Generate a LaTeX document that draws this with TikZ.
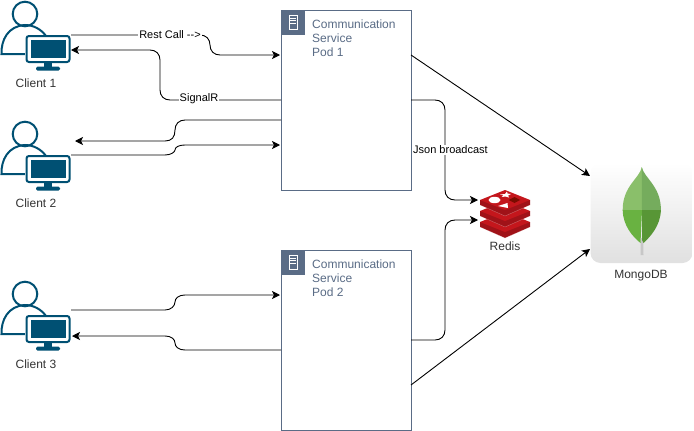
\documentclass[tikz,border=0pt]{standalone}
\usepackage{fontspec}
\setmainfont{Liberation Sans}
\usetikzlibrary{arrows.meta,calc}
\definecolor{clientblue}{HTML}{005073}
\definecolor{podgray}{HTML}{5A6C86}
\definecolor{labelgray}{HTML}{333333}
\definecolor{rA}{HTML}{C4161C}
\definecolor{rB}{HTML}{A01218}
\definecolor{rC}{HTML}{7A0C00}
\definecolor{lA}{HTML}{8ABF6A}
\definecolor{lB}{HTML}{75AC5D}
\definecolor{lC}{HTML}{69B241}
\definecolor{lD}{HTML}{589636}
\tikzset{
  x=1pt,y=-1pt,
  conn/.style={draw=black,line width=0.9pt,-{Stealth[length=8pt,width=8pt,inset=2pt]}},
  podbox/.style={draw=podgray,line width=0.9pt,fill=white,minimum width=130pt,minimum height=180pt,inner sep=0pt,anchor=north west},
  podhead/.style={fill=podgray,minimum width=24pt,minimum height=25pt,inner sep=0pt,anchor=north west},
  podtext/.style={text=podgray,font=\fontsize{12}{14}\selectfont,align=left,anchor=north west,inner sep=0pt},
  iconlabel/.style={text=labelgray,font=\fontsize{12}{14}\selectfont,inner sep=0pt},
  connlabel/.style={fill=white,text=black,font=\fontsize{11}{13}\selectfont,inner sep=1pt},
  clientline/.style={draw=clientblue,line width=2pt},
  pics/clienticon/.style={code={
    \draw[clientline] (25,14) circle (12.3);
    \draw[clientline,line cap=butt] (26,54) -- (1.5,54) .. controls (1,40) and (8,26) .. (25,25) .. controls (33,25) and (41,29) .. (46,36);
    \fill[white] (25,35) rectangle (71,63);
    \draw[clientline,fill=white,rounded corners=2.5pt] (26.5,36) rectangle (69.5,62);
    \fill[clientblue] (30.5,40) rectangle (65.5,58);
    \fill[clientblue] (44,62) rectangle (52,67);
    \fill[clientblue,rounded corners=1.5pt] (36,66.5) rectangle (60,70.5);
  }},
}
\begin{document}
\begin{tikzpicture}
\useasboundingbox (0,0) rectangle (694,431);
\pic at (0,0) {clienticon};
\pic at (0,120) {clienticon};
\pic at (0,280) {clienticon};
\node[iconlabel] (c1label) at (36,83) {Client 1};
\node[iconlabel] (c2label) at (36,203) {Client 2};
\node[iconlabel] (c3label) at (36,364) {Client 3};

% pods
\foreach \nm/\yy/\txt in {pod1/10/1,pod2/250/2}{
  \node[podbox] (\nm) at (281,\yy) {};
  \node[podhead] (\nm head) at (281,\yy) {};
  \draw[white,line width=0.7pt] ($(\nm head.north west)+(8,5)$) rectangle ($(\nm head.north west)+(16,19)$);
  \foreach \dy in {8,10.5,13}{\draw[white,line width=0.5pt] ($(\nm head.north west)+(9,\dy)$) -- ($(\nm head.north west)+(15,\dy)$);}
  \node[podtext] (\nm text) at (312,\yy+7) {\rule{0pt}{3pt}\\[-6pt]Communication\\Service\\Pod \txt};
}

% Redis
\node[iconlabel] (redislabel) at (505,246) {Redis};
\foreach \o in {22,11,0}{
  \fill[rB] (480,200+\o) -- (480,205+\o) -- (505,216+\o) -- (530,205+\o) -- (530,200+\o) -- cycle;
  \fill[rA] (505,190+\o) -- (480,200+\o) -- (505,210+\o) -- (530,200+\o) -- cycle;
  \draw[white,opacity=.35,line width=.4pt] (480,205+\o) -- (505,216+\o) -- (530,205+\o);
}
\fill[white] (494.5,200) ellipse (6 and 3.2);
\fill[white] (505,194) -- (507,191.5) -- (507.5,193.5) -- (511,194) -- (508,195.5) -- (509,197.5) -- (505.5,196.5) -- (501.5,197) -- (503.5,195.5) -- (500,194.5) -- cycle;
\fill[white] (507.5,203) -- (498,206) -- (508,208) -- cycle;
\fill[rC] (514.5,197) -- (520,200) -- (514.5,203) -- (508.5,200) -- cycle;

% MongoDB
\shade[top color=white,bottom color=black!12,rounded corners=10pt] (590.5,163) rectangle (692.5,263);
\fill[black!22] (640.5,238) -- (643.2,238) -- (643.5,255) -- (640.5,255) -- cycle;
\fill[lA] (641.8,167) .. controls (640,178) and (622.5,186) .. (622.7,210) -- (642,210) -- cycle;
\fill[lB] (641.8,167) .. controls (644,178) and (661,186) .. (660.9,210) -- (642,210) -- cycle;
\fill[lC] (622.7,210) .. controls (623,226) and (633,237) .. (640.5,243) -- (642,210) -- cycle;
\fill[lD] (660.9,210) .. controls (660.5,226) and (650,237) .. (643.5,243) -- (642,240) -- (642,210) -- cycle;
\node[iconlabel] (mongolabel) at (641,276) {MongoDB};

% connector ends
\coordinate (a1) at (71,35);   \coordinate (a2) at (280,55);
\coordinate (b1) at (281,100); \coordinate (b2) at (71,50);
\coordinate (c1) at (281,120); \coordinate (c2) at (75,141);
\coordinate (d1) at (71,155);  \coordinate (d2) at (280,145);
\coordinate (e1) at (71,310);  \coordinate (e2) at (280,295);
\coordinate (f1) at (281,350); \coordinate (f2) at (72,336);
\coordinate (g1) at (411,100); \coordinate (g2) at (478,200);
\coordinate (h1) at (411,340); \coordinate (h2) at (478,220);
\coordinate (i1) at (411,55);  \coordinate (i2) at (590,176);
\coordinate (j1) at (411,385); \coordinate (j2) at (590,249);

\draw[conn] (a1) -- (200,35) .. controls (206,35) and (210,39) .. (210,45) .. controls (210,51) and (214,55) .. (220,55) -- (a2);
\node[connlabel] (restlabel) at (170,35) {Rest Call -{}->};
\draw[conn] (b1) -- (170,100) .. controls (164,100) and (160,96) .. (160,90) -- (160,60) .. controls (160,54) and (156,50) .. (150,50) -- (b2);
\node[connlabel] (signallabel) at (199,99) {SignalR};
\draw[conn] (c1) -- (185,120) .. controls (179,120) and (175,124) .. (175,130) .. controls (175,137) and (172,141) .. (165,141) -- (c2);
\draw[conn] (d1) -- (165,155) .. controls (171,155) and (175,152) .. (175,150) .. controls (175,147) and (179,145) .. (185,145) -- (d2);
\draw[conn] (e1) -- (165,310) .. controls (171,310) and (175,306) .. (175,302) .. controls (175,298) and (179,295) .. (185,295) -- (e2);
\draw[conn] (f1) -- (185,350) .. controls (179,350) and (175,347) .. (175,343) .. controls (175,339) and (171,336) .. (165,336) -- (f2);
\draw[conn] (g1) -- (435,100) .. controls (441,100) and (445,104) .. (445,110) -- (445,190) .. controls (445,196) and (449,200) .. (455,200) -- (g2);
\node[connlabel] (jsonlabel) at (450.5,150) {Json broadcast};
\draw[conn] (h1) -- (435,340) .. controls (441,340) and (445,336) .. (445,330) -- (445,230) .. controls (445,224) and (449,220) .. (455,220) -- (h2);
\draw[conn] (i1) -- (i2);
\draw[conn] (j1) -- (j2);
\end{tikzpicture}
\end{document}
